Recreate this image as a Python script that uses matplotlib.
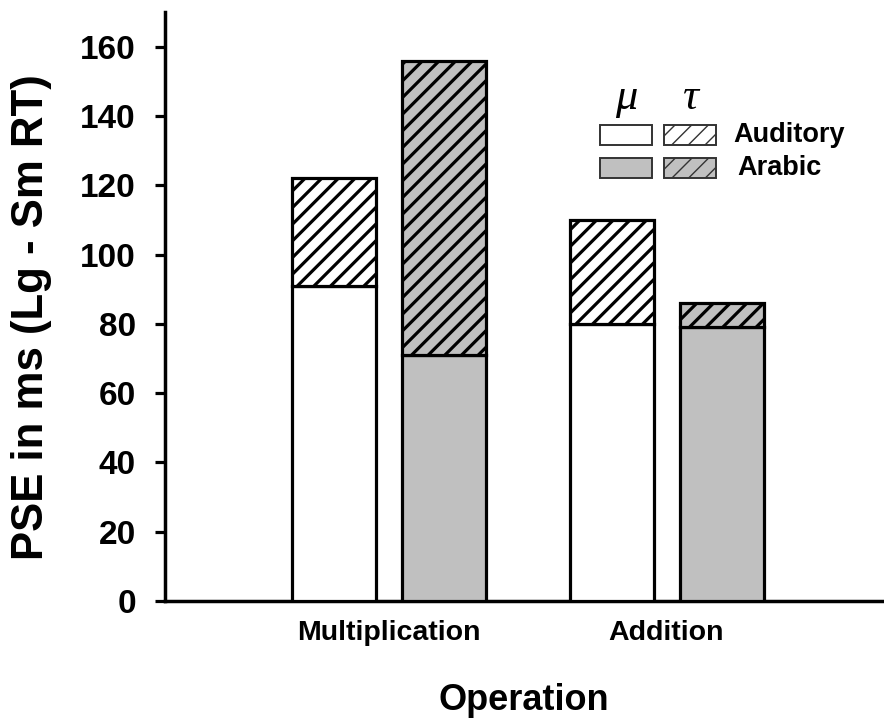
import numpy as np
import matplotlib
matplotlib.use("Agg")
import matplotlib.pyplot as plt
from matplotlib.patches import Rectangle

plt.rcParams['font.family'] = ['Liberation Sans', 'DejaVu Sans']
plt.rcParams['font.weight'] = 'bold'
plt.rcParams['axes.labelweight'] = 'bold'
plt.rcParams['hatch.linewidth'] = 2.3

operations = ["Multiplication", "Addition"]
# mu component and total (mu + tau) per modality, in ms
aud_mu = [91, 80]
aud_total = [122, 110]
arab_mu = [71, 79]
arab_total = [156, 86]

aud_tau = np.array(aud_total) - np.array(aud_mu)
arab_tau = np.array(arab_total) - np.array(arab_mu)

GRAY = '#c0c0c0'
fig = plt.figure(figsize=(8.84, 7.2), dpi=100)
ax = fig.add_axes([165/884, 1-601/720, 717/884, 589/720])

centers = np.array([2.235, 5.015])
w, off = 0.84, 0.55
kw = dict(width=w, edgecolor='black', linewidth=2.3, zorder=3)
ax.bar(centers-off, aud_mu, color='white', **kw)
ax.bar(centers-off, aud_tau, bottom=aud_mu, color='white', hatch='//', **kw)
ax.bar(centers+off, arab_mu, color=GRAY, **kw)
ax.bar(centers+off, arab_tau, bottom=arab_mu, color=GRAY, hatch='//', **kw)

ax.set_xlim(0, 7.17)
ax.set_ylim(0, 170)
ax.set_yticks(np.arange(0, 161, 20))
ax.set_xticks(centers)
ax.set_xticklabels(operations, fontsize=20.5, fontweight='bold')
ax.tick_params(axis='x', length=0, pad=14)
ax.tick_params(axis='y', length=7, width=2.3, direction='out', labelsize=24, pad=14)
for lab in ax.get_yticklabels():
    lab.set_fontweight('bold')
for s in ['top', 'right']:
    ax.spines[s].set_visible(False)
for s in ['left', 'bottom']:
    ax.spines[s].set_linewidth(2.5)

ax.set_ylabel("PSE in ms (Lg - Sm RT)", fontsize=31.5)
ax.yaxis.set_label_coords(-0.158, 0.482)
ax.set_xlabel("Operation", fontsize=26, labelpad=26)

# legend: mu / tau columns, modality rows
def fx(px):
    return px / 884
def fy(py):
    return 1 - py / 720

rows = [("Auditory", 'white', 125, 733), ("Arabic", GRAY, 158, 737)]
for label, fc, top, tx in rows:
    for x0, hatch in [(600, None), (664, '//')]:
        r = Rectangle((fx(x0), fy(top + 20)), fx(52), 20/720, transform=fig.transFigure,
                      facecolor=fc, edgecolor='#333333', linewidth=1.4, hatch=hatch)
        if hatch and hasattr(r, 'set_hatch_linewidth'):
            r.set_hatch_linewidth(1.0)
        fig.add_artist(r)
    fig.text(fx(tx), fy(top + 10), label, fontsize=19.5, va='center', ha='left')

for sym, x in [("μ", 626), ("τ", 690)]:
    fig.text(fx(x), fy(98), sym, fontsize=32, ha='center', va='center',
             family='Liberation Serif', style='italic', fontweight='normal')

fig.savefig("out.png", dpi=100)
